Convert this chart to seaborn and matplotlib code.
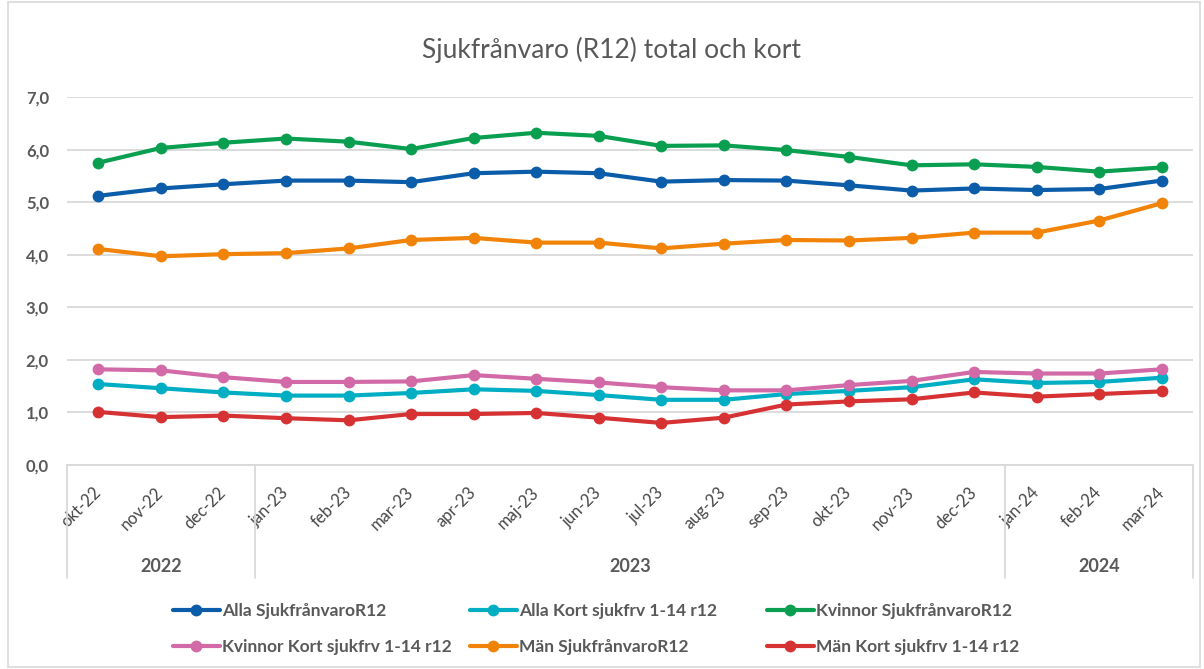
"""
Sjukfrånvaro (R12) total och kort - linjediagram
"""

import pandas as pd
import numpy as np
import matplotlib.pyplot as plt
import seaborn as sns
from matplotlib.patches import Rectangle

# Data
months = ['okt-22', 'nov-22', 'dec-22', 'jan-23', 'feb-23', 'mar-23', 'apr-23', 'maj-23', 'jun-23',
          'jul-23', 'aug-23', 'sep-23', 'okt-23', 'nov-23', 'dec-23', 'jan-24', 'feb-24', 'mar-24']
years = ['2022', '2023', '2024']
year_counts = [3, 12, 3]

alla_sjuk = [5.12, 5.26, 5.34, 5.41, 5.41, 5.38, 5.55, 5.58, 5.55, 5.39, 5.42, 5.41, 5.32, 5.22, 5.26, 5.23, 5.25, 5.41]
alla_kort = [1.54, 1.46, 1.38, 1.32, 1.32, 1.37, 1.44, 1.41, 1.33, 1.24, 1.24, 1.35, 1.41, 1.48, 1.63, 1.56, 1.58, 1.66]
kvinnor_sjuk = [5.75, 6.03, 6.13, 6.21, 6.15, 6.01, 6.22, 6.32, 6.26, 6.07, 6.08, 5.99, 5.86, 5.70, 5.72, 5.67, 5.58, 5.66]
kvinnor_kort = [1.82, 1.80, 1.67, 1.58, 1.58, 1.59, 1.71, 1.64, 1.57, 1.48, 1.42, 1.42, 1.52, 1.60, 1.77, 1.74, 1.74, 1.82]
man_sjuk = [4.11, 3.97, 4.01, 4.03, 4.12, 4.28, 4.32, 4.23, 4.23, 4.12, 4.21, 4.28, 4.27, 4.32, 4.42, 4.42, 4.65, 4.98]
man_kort = [1.01, 0.91, 0.94, 0.89, 0.85, 0.97, 0.97, 0.99, 0.90, 0.80, 0.90, 1.15, 1.21, 1.25, 1.38, 1.30, 1.35, 1.40]

series_names = ['Alla SjukfrånvaroR12', 'Alla Kort sjukfrv 1-14 r12', 'Kvinnor SjukfrånvaroR12',
                'Kvinnor Kort sjukfrv 1-14 r12', 'Män SjukfrånvaroR12', 'Män Kort sjukfrv 1-14 r12']
series_values = [alla_sjuk, alla_kort, kvinnor_sjuk, kvinnor_kort, man_sjuk, man_kort]
colors = ['#0b5ca9', '#00aec4', '#0a9f50', '#d26aa7', '#f18308', '#d63234']

# Lång tabell för seaborn
df = pd.concat([pd.DataFrame({'Månad': months, 'Värde': vals, 'Serie': name})
                for name, vals in zip(series_names, series_values)], ignore_index=True)

sns.set_style('white')
plt.rcParams['font.family'] = ['Lato', 'DejaVu Sans']
grey_txt = '#595959'
grid_col = '#d9d9d9'

fig = plt.figure(figsize=(12.04, 6.69), dpi=100)
ax = fig.add_axes([67 / 1204, 1 - 465 / 669, (1193 - 67) / 1204, (465 - 97) / 669])

sns.lineplot(data=df, x='Månad', y='Värde', hue='Serie', hue_order=series_names,
             palette=dict(zip(series_names, colors)), marker='o', markersize=8.5,
             markeredgewidth=0, linewidth=3.0, sort=False, ax=ax, legend=True)

ax.set_xlim(-0.5, len(months) - 0.5)
ax.set_ylim(0, 7)
ax.set_yticks(np.arange(0, 8, 1))
ax.set_yticklabels([f'{v:.1f}'.replace('.', ',') for v in np.arange(0, 8, 1)],
                   fontsize=12, fontweight='bold', color=grey_txt)
ax.set_xticks(range(len(months)))
ax.set_xticklabels(months, rotation=45, ha='right', va='center', rotation_mode='anchor',
                   fontsize=12, color='#474747')
ax.tick_params(axis='x', length=0, pad=18)
ax.tick_params(axis='y', length=0, pad=13)
ax.set_xlabel('')
ax.set_ylabel('')
ax.yaxis.grid(True, color=grid_col, linewidth=1.3)
ax.set_axisbelow(True)
for side in ['left', 'right', 'top']:
    ax.spines[side].set_visible(False)
ax.spines['bottom'].set_color(grid_col)
ax.spines['bottom'].set_linewidth(1.3)

# Årsgruppering under x-axeln
trans = ax.get_xaxis_transform()
bottom_y = -(578 - 465) / 368
edges = np.concatenate([[0], np.cumsum(year_counts)]) - 0.5
for e in edges:
    ax.plot([e, e], [0, bottom_y], transform=trans, color=grid_col, linewidth=1.3, clip_on=False)
for i, yr in enumerate(years):
    ax.text((edges[i] + edges[i + 1]) / 2, -(567 - 465) / 368, yr, transform=trans,
            ha='center', va='center', fontsize=13, fontweight='bold', color=grey_txt)

fig.text(612 / 1204, 1 - 50 / 669, 'Sjukfrånvaro (R12) total och kort',
         ha='center', va='center', fontsize=19, color=grey_txt)

# Legend: två rader, tre kolumner med lika bredd
handles, labels = ax.get_legend_handles_labels()
ax.get_legend().remove()
col_x = [173, 470, 767]
for c, x0 in enumerate(col_x):
    idx = [c, c + 3]
    leg = fig.legend([handles[i] for i in idx], [labels[i] for i in idx], ncol=1,
                     loc='center left', bbox_to_anchor=(x0 / 1204, 1 - 629 / 669), frameon=False,
                     handlelength=2.7, handletextpad=0.1, labelspacing=1.15, borderpad=0,
                     borderaxespad=0, prop={'size': 12.5, 'weight': 'bold'})
    for t in leg.get_texts():
        t.set_color(grey_txt)

# Ram runt diagrammet
fig.patches.append(Rectangle((8 / 1204, 2 / 669), 1192 / 1204, 665 / 669, transform=fig.transFigure,
                             fill=False, edgecolor=grid_col, linewidth=1.2))

fig.savefig('out.png', dpi=100)
